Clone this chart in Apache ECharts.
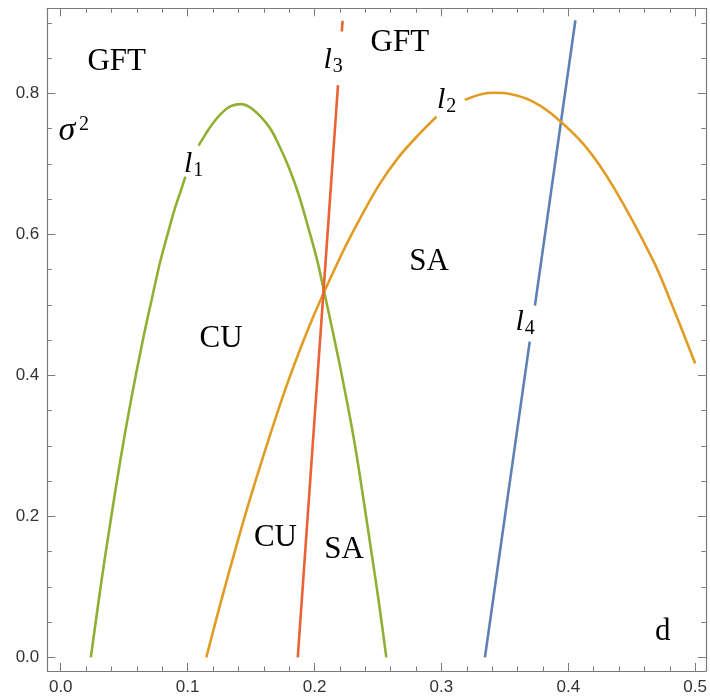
<!DOCTYPE html>
<html>
<head>
<meta charset="utf-8">
<script src="https://cdn.jsdelivr.net/npm/echarts@6/dist/echarts.min.js"></script>
<style>
  html, body { margin: 0; padding: 0; background: #fff; }
  #main { width: 710px; height: 696px; }
</style>
</head>
<body>
<div id="main"></div>
<script>
// tick values
const dMajor = [0, 0.1, 0.2, 0.3, 0.4, 0.5];
const dMinor = [0.02, 0.04, 0.06, 0.08, 0.12, 0.14, 0.16, 0.18, 0.22, 0.24, 0.26, 0.28,
  0.32, 0.34, 0.36, 0.38, 0.42, 0.44, 0.46, 0.48];
const sMajor = [0, 0.2, 0.4, 0.6, 0.8];
const sMinor = [0.05, 0.1, 0.15, 0.25, 0.3, 0.35, 0.45, 0.5, 0.55, 0.65, 0.7, 0.75, 0.85, 0.9];

// l1 (green), null = gap for the label
const l1D = [0.0237, 0.0323, 0.0395, 0.0471, 0.0555, 0.0648, 0.0716, 0.0778, 0.0831, 0.0896, 0.0948, 0.0982, null,
  0.1086, 0.1144, 0.1184, 0.1262, 0.1340, 0.1419, 0.1510, 0.1641, 0.1719, 0.1798, 0.1876, 0.1955,
  0.2020, 0.2072, 0.2137, 0.2221, 0.2311, 0.2386, 0.2456, 0.2504, 0.2566];
const l1S = [0, 0.111, 0.196, 0.281, 0.366, 0.451, 0.507, 0.557, 0.593, 0.635, 0.663, 0.682, null,
  0.726, 0.743, 0.754, 0.771, 0.782, 0.785, 0.778, 0.753, 0.727, 0.695, 0.656, 0.607,
  0.564, 0.522, 0.468, 0.395, 0.309, 0.224, 0.140, 0.082, 0];

// l2 (orange)
const l2D = [0.1147, 0.1267, 0.1398, 0.1497, 0.1638, 0.1797, 0.1980, 0.2190, 0.2321, 0.2504, 0.2660,
  0.2817, 0.2961, null, 0.3184, 0.3314, 0.3419, 0.3549, 0.3706, 0.3863, 0.4125, 0.4360, 0.4674,
  0.4831, 0.5000];
const l2S = [0, 0.082, 0.167, 0.228, 0.309, 0.394, 0.479, 0.563, 0.610, 0.669, 0.709,
  0.741, 0.767, null, 0.791, 0.799, 0.801, 0.799, 0.790, 0.772, 0.727, 0.666, 0.561,
  0.494, 0.417];

// l3 (red) and l4 (blue) are straight
const l3D = [0.1868, 0.2185, null, 0.2215, 0.2221];
const l3S = [0, 0.812, null, 0.888, 0.903];
const l4D = [0.3343, 0.3696, null, 0.3737, 0.4056];
const l4S = [0, 0.448, null, 0.499, 0.904];

// region / curve labels (placed in data coords)
const words = [
  ['GFT', 0.0441, 0.8452], ['GFT', 0.2672, 0.8713], ['SA', 0.2903, 0.5606],
  ['CU', 0.1263, 0.4522], ['CU', 0.1692, 0.1701], ['SA', 0.2233, 0.1524], ['d', 0.4744, 0.0368]
];
const curveNames = [
  ['1', 0.1005, 0.7002], ['3', 0.2104, 0.8476], ['2', 0.2998, 0.7910], ['4', 0.3617, 0.4762]
];

const frameColor = '#7a7a7a';
const serif = '"Liberation Serif", "DejaVu Serif", serif';

function pairs(xs, ys) {
  return xs.map((x, i) => x === null ? ['-', '-'] : [x, ys[i]]);
}

function axis(pos, min, max, major, minor, isMinor, showLabel) {
  return {
    type: 'value', position: pos, min: min, max: max,
    axisLine: { show: !isMinor, onZero: false, lineStyle: { color: frameColor, width: 1.2 } },
    axisTick: { show: true, inside: true, length: isMinor ? 4.5 : 8,
      customValues: isMinor ? minor : major, lineStyle: { color: frameColor, width: 1 } },
    axisLabel: { show: showLabel, customValues: major, margin: 8,
      color: '#333', fontSize: 17, fontFamily: '"Liberation Sans", Arial, sans-serif',
      formatter: v => v.toFixed(1) },
    splitLine: { show: false }
  };
}

const X0 = -0.0106, X1 = 0.5084, Y0 = -0.0194, Y1 = 0.9209;

const chart = echarts.init(document.getElementById('main'));
chart.setOption({
  animation: false,
  grid: { left: 47.3, right: 1, top: 8.3, bottom: 24.3 },
  xAxis: [
    axis('bottom', X0, X1, dMajor, dMinor, false, true),
    axis('bottom', X0, X1, dMajor, dMinor, true, false),
    axis('top', X0, X1, dMajor, dMinor, false, false),
    axis('top', X0, X1, dMajor, dMinor, true, false)
  ],
  yAxis: [
    axis('left', Y0, Y1, sMajor, sMinor, false, true),
    axis('left', Y0, Y1, sMajor, sMinor, true, false),
    axis('right', Y0, Y1, sMajor, sMinor, false, false),
    axis('right', Y0, Y1, sMajor, sMinor, true, false)
  ],
  series: [
    { name: 'l4', type: 'line', data: pairs(l4D, l4S), color: '#5E81B5' },
    { name: 'l2', type: 'line', data: pairs(l2D, l2S), color: '#E19C24', smooth: 0.35 },
    { name: 'l1', type: 'line', data: pairs(l1D, l1S), color: '#8FB032', smooth: 0.35 },
    { name: 'l3', type: 'line', data: pairs(l3D, l3S), color: '#EB6235' }
  ].map(s => Object.assign({
    showSymbol: false, symbol: 'none', connectNulls: false,
    lineStyle: { width: 2.6 }
  }, s))
});

const px = (x, y) => chart.convertToPixel({ gridIndex: 0 }, [x, y]);
const g = [];
words.forEach(w => {
  const p = px(w[1], w[2]);
  g.push({ type: 'text', x: p[0], y: p[1], style: { text: w[0], font: '31px ' + serif,
    fill: '#000', textAlign: 'center', textVerticalAlign: 'middle' } });
});
curveNames.forEach(c => {
  const p = px(c[1], c[2]);
  g.push({ type: 'text', x: p[0], y: p[1], style: { text: 'l', font: 'italic 30px ' + serif,
    fill: '#000', textAlign: 'center', textVerticalAlign: 'middle' } });
  g.push({ type: 'text', x: p[0] + 10, y: p[1] + 7, style: { text: c[0], font: '20px ' + serif,
    fill: '#000', textAlign: 'center', textVerticalAlign: 'middle' } });
});
// sigma^2 axis label
const sp = px(0.0049, 0.7472);
g.push({ type: 'text', x: sp[0], y: sp[1], style: { text: 'σ', font: 'italic 34px ' + serif,
  fill: '#000', textAlign: 'center', textVerticalAlign: 'middle' } });
g.push({ type: 'text', x: sp[0] + 17, y: sp[1] - 6, style: { text: '2', font: '20px ' + serif,
  fill: '#000', textAlign: 'center', textVerticalAlign: 'middle' } });
chart.setOption({ graphic: g });
</script>
</body>
</html>
